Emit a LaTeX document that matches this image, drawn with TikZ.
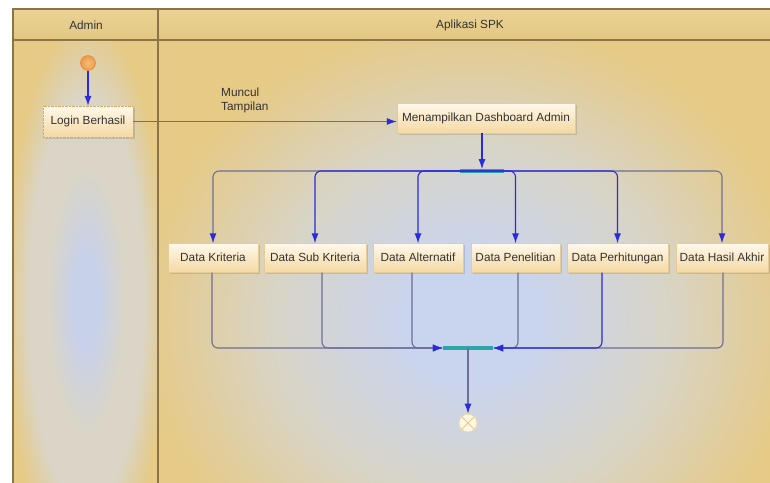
\documentclass[tikz,border=0pt]{standalone}
\usepackage{fontspec}
\setmainfont{Liberation Sans}
\usetikzlibrary{arrows.meta,calc}

% palette
\definecolor{laneedge}{HTML}{E6CA86}
\definecolor{lanemid}{HTML}{D8D4C6}
\definecolor{glowcore}{HTML}{C9D4EE}
\definecolor{adminmid}{HTML}{DAD5C6}
\definecolor{admincore}{HTML}{C8D1EA}
\definecolor{headtop}{HTML}{EBD396}
\definecolor{headbot}{HTML}{E2C682}
\definecolor{poolline}{HTML}{8B7448}
\definecolor{flowblue}{HTML}{2A2AE0}
\definecolor{flowgrey}{HTML}{6E6E98}
\definecolor{barteal}{HTML}{2AA6A8}
\definecolor{boxtop}{HTML}{FFF8EA}
\definecolor{boxbot}{HTML}{F4D9A2}
\definecolor{boxline}{HTML}{E6CC98}
\definecolor{inktext}{HTML}{333333}
\definecolor{selline}{HTML}{D9A862}
\definecolor{startin}{HTML}{F6BE7A}
\definecolor{startout}{HTML}{EE9A46}
\definecolor{startline}{HTML}{E0883A}
\definecolor{endfill}{HTML}{FFF7E4}
\definecolor{endline}{HTML}{F0D6A4}
\definecolor{endcross}{HTML}{E6C88E}

% glow in the middle of each lane
\pgfdeclareradialshading{laneglow}{\pgfpoint{0bp}{0bp}}{%
  color(0bp)=(glowcore); color(5bp)=(glowcore);
  color(15bp)=(lanemid); color(25bp)=(laneedge); color(50bp)=(laneedge)}
\pgfdeclareradialshading{adminglow}{\pgfpoint{0bp}{0bp}}{%
  color(0bp)=(admincore); color(4bp)=(admincore);
  color(12bp)=(adminmid); color(18bp)=(adminmid); color(25bp)=(laneedge); color(50bp)=(laneedge)}

\tikzset{
  pool/.style={draw=poolline, line width=1.4pt},
  txt/.style={text=inktext, font=\fontsize{11.8}{14}\selectfont},
  action/.style={rectangle, top color=boxtop, bottom color=boxbot,
    draw=boxline, line width=0.4pt, txt, minimum height=29pt, inner sep=2pt,
    text height=8.6pt, text depth=2.6pt},
  flow/.style={draw=flowblue, line width=1.1pt, rounded corners=6pt,
    -{Latex[length=10pt,width=7pt]}},
  flowg/.style={flow, draw=flowgrey, -{Latex[length=10pt,width=7pt,fill=flowblue,color=flowblue]}},
  syncbar/.style={rectangle, fill=barteal, inner sep=0pt, minimum height=3.5pt},
  shadowed/.style={preaction={fill=black, opacity=0.12, transform canvas={shift={(1.5pt,-1.5pt)}}}}
}

\begin{document}
\begin{tikzpicture}[x=1pt,y=-1pt]
\useasboundingbox[fill=white] (0,0) rectangle (770,482);

% lane backgrounds
\begin{scope}
  \clip (13,40) rectangle (158,482);
  \shade[shading=adminglow] (6,20) rectangle (166,580);
\end{scope}
\begin{scope}
  \clip (158,40) rectangle (770,482);
  \shade[shading=laneglow] (140,20) rectangle (800,620);
\end{scope}
\shade[top color=headtop, bottom color=headbot] (13,9) rectangle (770,40);

% pool frame
\draw[pool] (771,9) -- (13,9) -- (13,483);
\draw[pool] (13,40) -- (771,40);
\draw[pool] (158,9) -- (158,483);

\node[txt] (hadmin) at (86,25) {Admin};
\node[txt] (happ) at (470,25) {Aplikasi SPK};

% initial and final nodes
\node[circle, minimum size=15pt, inner sep=0pt, inner color=startin,
      outer color=startout, draw=startline, line width=0.5pt] (start) at (88,63) {};
\node[circle, minimum size=18pt, inner sep=0pt, fill=endfill,
      draw=endline, line width=0.8pt,
      path picture={\draw[endcross, line width=1pt]
        (path picture bounding box.north west) -- (path picture bounding box.south east)
        (path picture bounding box.north east) -- (path picture bounding box.south west);}]
      (final) at (468,423) {};

% actions
\node[action, shadowed, minimum width=90pt, minimum height=31pt,
      draw=selline, densely dotted] (login) at (88,121.5) {Login Berhasil};
\node[action, shadowed, minimum width=178pt, minimum height=30pt] (dash) at (486,118) {Menampilkan Dashboard Admin};

\node[action, shadowed, minimum width=90pt]  (kri) at (213,258)   {Data Kriteria};
\node[action, shadowed, minimum width=102pt] (sub) at (315,258)   {Data Sub Kriteria};
\node[action, shadowed, minimum width=90pt]  (alt) at (418,258)   {Data Alternatif};
\node[action, shadowed, minimum width=89pt]  (pen) at (515.5,258) {Data Penelitian};
\node[action, shadowed, minimum width=101pt] (per) at (617.5,258) {Data Perhitungan};
\node[action, shadowed, minimum width=92pt]  (has) at (722,258)   {Data Hasil Akhir};

% fork and join bars
\node[syncbar, minimum width=44pt] (fork) at (482,171) {};
\node[syncbar, minimum width=50pt] (join) at (468,348) {};

\node[txt, align=left, anchor=north west, inner sep=0pt] (lbl) at (221,88) {Muncul\\Tampilan};

% control flow
\draw[flow] (start) -- (login);
\draw[flowg] (login.east) -- (login.east -| dash.west);
\draw[flow] (fork.north |- dash.south) -- (fork.north);

\draw[flowg] (fork.center) -| (kri.north);
\draw[flowg] (fork.center) -| (has.north);
\draw[flow] (fork.center) -| (sub.north);
\draw[flow] (fork.center) -| (alt.north);
\draw[flow] (fork.center) -| (pen.north);
\draw[flow] (fork.center) -| (per.north);

\draw[flowg] ($(kri.south)+(-1,0)$) |- (join.west);
\draw[flowg] ($(sub.south)+(7,0)$) |- (join.west);
\draw[flowg] ($(alt.south)+(-6,0)$) |- (join.west);
\draw[flowg] ($(has.south)+(1,0)$) |- (join.east);
\draw[flowg] ($(pen.south)+(2.5,0)$) |- (join.east);
\draw[flow] ($(per.south)+(-15.5,0)$) |- (join.east);

\draw[flowg] (join.center) -- (final.north);
\end{tikzpicture}
\end{document}
